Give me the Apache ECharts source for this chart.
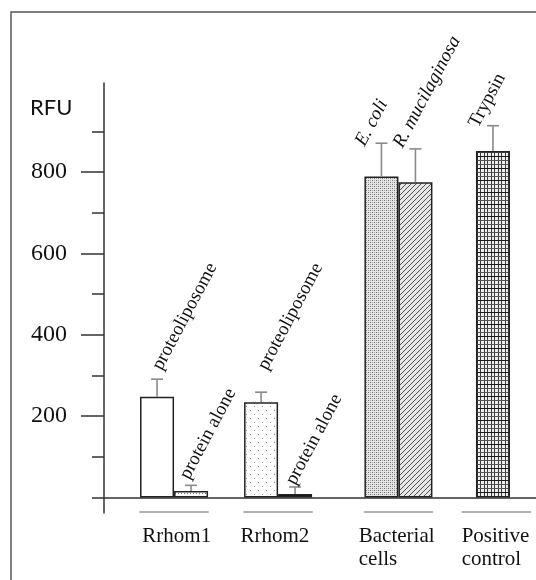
<!DOCTYPE html>
<html>
<head>
<meta charset="utf-8">
<script src="https://cdn.jsdelivr.net/npm/echarts@6/dist/echarts.min.js"></script>
<style>
  html, body { margin: 0; padding: 0; background: #fff; }
  #chart { width: 536px; height: 580px; }
</style>
</head>
<body>
<div id="chart"></div>
<script>
// ---- data ----
const groupNames = ['Rrhom1', 'Rrhom2', 'Bacterial\ncells', 'Positive\ncontrol'];
const barLabels = ['proteoliposome', 'protein alone', 'proteoliposome', 'protein alone', 'E. coli', 'R. mucilaginosa', 'Trypsin'];
const barItalic = [false, false, false, false, true, true, false];
const barGroup = [0, 0, 1, 1, 2, 2, 3];
const barValues = [248, 16, 234, 9, 789, 775, 852];
const barErrors = [43, 14, 25, 17, 82, 82, 62];
const yMajorTicks = [200, 400, 600, 800];
const yMinorTicks = [0, 100, 300, 500, 700, 900];

// ---- layout (x axis measured in bar widths) ----
const groupCenters = [2.06, 5.12, 8.66, 11.54];
const barOffsets = [-0.5, 0.5, -0.5, 0.5, -0.5, 0.5, -0.1];
const labelShift = [[8.5, -6], [2, -3], [10, -19], [4, 1], [-13, 6], [-9, 2], [-11, 5]];
const groupTextShift = [3, -3, -5, 0];
const X_MAX = 432 / 34;
const Y_MIN = -38, Y_MAX = 1019;
const SERIF = '"Liberation Serif", "Times New Roman", serif';
const LABEL_ANGLE = 62 * Math.PI / 180;

// ---- fill patterns ----
function tile(w, h, draw) {
  const c = document.createElement('canvas');
  c.width = w; c.height = h;
  const g = c.getContext('2d');
  g.fillStyle = '#fff';
  g.fillRect(0, 0, w, h);
  draw(g);
  return { image: c, repeat: 'repeat' };
}
function px(g, x, y, col) { g.fillStyle = col; g.fillRect(x, y, 1, 1); }

const fills = [
  '#ffffff',
  tile(3, 3, g => { px(g, 1, 1, '#777'); }),
  tile(8, 8, g => { px(g, 2, 2, '#888'); px(g, 6, 6, '#888'); }),
  '#111111',
  tile(4, 4, g => {
    g.fillStyle = '#e4e4e4'; g.fillRect(0, 0, 4, 4);
    px(g, 0, 0, '#777'); px(g, 2, 2, '#777'); px(g, 2, 0, '#aaa'); px(g, 0, 2, '#aaa');
  }),
  tile(5, 5, g => {
    g.fillStyle = '#e6e6e6'; g.fillRect(0, 0, 5, 5);
    for (let k = 0; k < 5; k++) px(g, k, 4 - k, '#555');
  }),
  tile(7, 12, g => {
    g.fillStyle = '#eeeeee'; g.fillRect(0, 0, 7, 12);
    g.fillStyle = '#3a3a3a'; g.fillRect(1, 0, 1, 12); g.fillRect(4, 0, 1, 12);
    g.fillStyle = '#555'; g.fillRect(0, 4, 7, 1); g.fillRect(0, 8, 7, 1);
    g.fillStyle = '#1a1a1a'; g.fillRect(0, 0, 7, 1);
  })
];

const barData = barValues.map((v, i) => ({
  value: [groupCenters[barGroup[i]] + barOffsets[i], v],
  itemStyle: { color: fills[i] }
}));
const errData = barValues.map((v, i) => [groupCenters[barGroup[i]] + barOffsets[i], v, barErrors[i]]);
const groupData = groupCenters.map((c, i) => [c, i]);

const chart = echarts.init(document.getElementById('chart'), null, { renderer: 'canvas' });

chart.setOption({
  animation: false,
  backgroundColor: '#fff',
  title: {
    text: 'RFU', left: 25, top: 92,
    textStyle: { fontFamily: 'Lato, "Open Sans", sans-serif', fontSize: 22, fontWeight: 'normal', color: '#111' }
  },
  grid: { left: 104, right: 0, top: 83, bottom: 67 },
  xAxis: {
    type: 'value', min: 0, max: X_MAX,
    axisLine: { show: true, onZero: true, lineStyle: { color: '#333', width: 1.5 } },
    axisTick: { show: false }, axisLabel: { show: false }, splitLine: { show: false }
  },
  yAxis: [{
    type: 'value', min: Y_MIN, max: Y_MAX, position: 'left',
    axisLine: { show: true, lineStyle: { color: '#333', width: 1.5 } },
    axisTick: { show: true, length: 23, customValues: yMajorTicks, lineStyle: { color: '#333', width: 1.5 } },
    axisLabel: { show: true, customValues: yMajorTicks, margin: 37, fontFamily: SERIF, fontSize: 24, color: '#111' },
    splitLine: { show: false }
  }, {
    type: 'value', min: Y_MIN, max: Y_MAX, position: 'left',
    axisLine: { show: false },
    axisTick: { show: true, length: 12, customValues: yMinorTicks, lineStyle: { color: '#333', width: 1.5 } },
    axisLabel: { show: false },
    splitLine: { show: false }
  }],
  graphic: [{
    type: 'polyline', silent: true,
    shape: { points: [[11, 580], [11, 12], [536, 12]] },
    style: { stroke: '#555', lineWidth: 1.5, fill: null }
  }],
  series: [{
    type: 'bar', name: 'RFU', data: barData, barWidth: 34,
    itemStyle: { borderColor: '#222', borderWidth: 1.5 },
    z: 2
  }, {
    type: 'custom', name: 'error', data: errData, z: 3,
    encode: { x: 0, y: 1 },
    renderItem(params, api) {
      const i = params.dataIndex;
      const x = api.value(0), v = api.value(1), e = api.value(2);
      const base = api.coord([x, v]);
      const top = api.coord([x, v + e]);
      const sh = labelShift[i];
      const stroke = { stroke: '#8a8a8a', lineWidth: 1.6 };
      return {
        type: 'group',
        children: [
          { type: 'line', shape: { x1: base[0], y1: base[1], x2: top[0], y2: top[1] }, style: stroke },
          { type: 'line', shape: { x1: top[0] - 6, y1: top[1], x2: top[0] + 6, y2: top[1] }, style: stroke },
          {
            type: 'text', x: top[0] + sh[0], y: top[1] + sh[1], rotation: LABEL_ANGLE,
            style: {
              text: barLabels[i], fontFamily: SERIF, fontSize: 19,
              fontStyle: barItalic[i] ? 'italic' : 'normal',
              fill: '#111', align: 'left', verticalAlign: 'bottom'
            }
          }
        ]
      };
    }
  }, {
    type: 'custom', name: 'groups', data: groupData, z: 3,
    encode: { x: 0 },
    renderItem(params, api) {
      const c = api.value(0);
      const left = api.coord([c - 1.02, Y_MIN]);
      const right = api.coord([c + 1.02, Y_MIN]);
      return {
        type: 'group',
        children: [
          { type: 'line', shape: { x1: left[0], y1: left[1] - 1, x2: right[0], y2: right[1] - 1 }, style: { stroke: '#999', lineWidth: 1.5 } },
          {
            type: 'text', x: left[0] + groupTextShift[params.dataIndex], y: left[1] + 12,
            style: {
              text: groupNames[params.dataIndex], fontFamily: SERIF, fontSize: 21, lineHeight: 23,
              fill: '#111', align: 'left', verticalAlign: 'top'
            }
          }
        ]
      };
    }
  }]
});
</script>
</body>
</html>
